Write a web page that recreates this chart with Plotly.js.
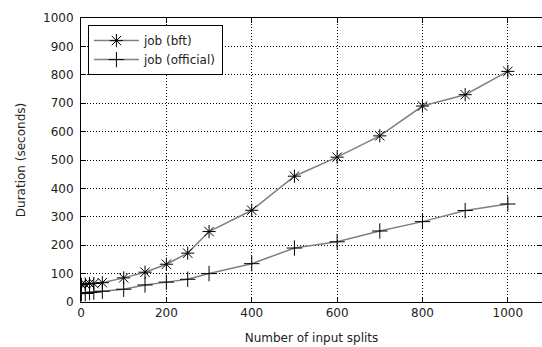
<!DOCTYPE html>
<html>
<head>
<meta charset="utf-8">
<script src="https://cdn.plot.ly/plotly-3.0.1.min.js"></script>
<style>html,body{margin:0;padding:0;background:#fff;}#chart{width:542px;height:347px;}</style>
</head>
<body>
<div id="chart"></div>
<script>
const splits = [1, 10, 20, 30, 50, 100, 150, 200, 250, 300, 400, 500, 600, 700, 800, 900, 1000];
const bftDuration = [62, 63, 65, 65, 68, 85, 105, 133, 172, 248, 323, 443, 510, 585, 690, 730, 812];
const officialDuration = [30, 30, 33, 35, 38, 45, 60, 70, 80, 100, 135, 190, 212, 250, 283, 322, 345];
const xTicks = [0, 200, 400, 600, 800, 1000];
const yTicks = [0, 100, 200, 300, 400, 500, 600, 700, 800, 900, 1000];

const font = {family: 'DejaVu Sans', size: 12, color: '#222'};

const traces = [
  {x: splits, y: bftDuration, name: 'job (bft)', mode: 'lines+markers',
   line: {color: '#808080', width: 1.5},
   marker: {symbol: 'asterisk-open', size: 11, color: '#000', line: {color: '#000', width: 1}}},
  {x: splits, y: officialDuration, name: 'job (official)', mode: 'lines+markers',
   line: {color: '#808080', width: 1.5},
   marker: {symbol: 'cross-thin-open', size: 11, color: '#000', line: {color: '#000', width: 1}}}
];

const axisCommon = {
  showline: true, linecolor: '#000', linewidth: 1, mirror: 'ticks',
  ticks: 'inside', ticklen: 5, tickcolor: '#000',
  showgrid: true, gridcolor: '#000', gridwidth: 1, griddash: '1px,2px',
  zeroline: false, tickfont: font
};

const layout = {
  width: 542, height: 347,
  margin: {l: 81, r: 0, t: 18, b: 45},
  paper_bgcolor: '#fff', plot_bgcolor: '#fff',
  font: font,
  showlegend: true,
  legend: {x: 0.015, y: 0.975, xanchor: 'left', yanchor: 'top',
           bordercolor: '#000', borderwidth: 1, bgcolor: '#fff',
           font: font, tracegroupgap: 0, itemwidth: 45},
  xaxis: Object.assign({}, axisCommon, {
    range: [0, 1080], tickvals: xTicks, ticktext: xTicks.map(String),
    title: {text: 'Number of input splits', font: font, standoff: 14}
  }),
  yaxis: Object.assign({}, axisCommon, {
    range: [0, 1000], tickvals: yTicks, ticktext: yTicks.map(String),
    ticklabelstandoff: 4,
    title: {text: 'Duration (seconds)', font: font, standoff: 14}
  })
};

Plotly.newPlot('chart', traces, layout, {displayModeBar: false, staticPlot: true});
</script>
</body>
</html>
